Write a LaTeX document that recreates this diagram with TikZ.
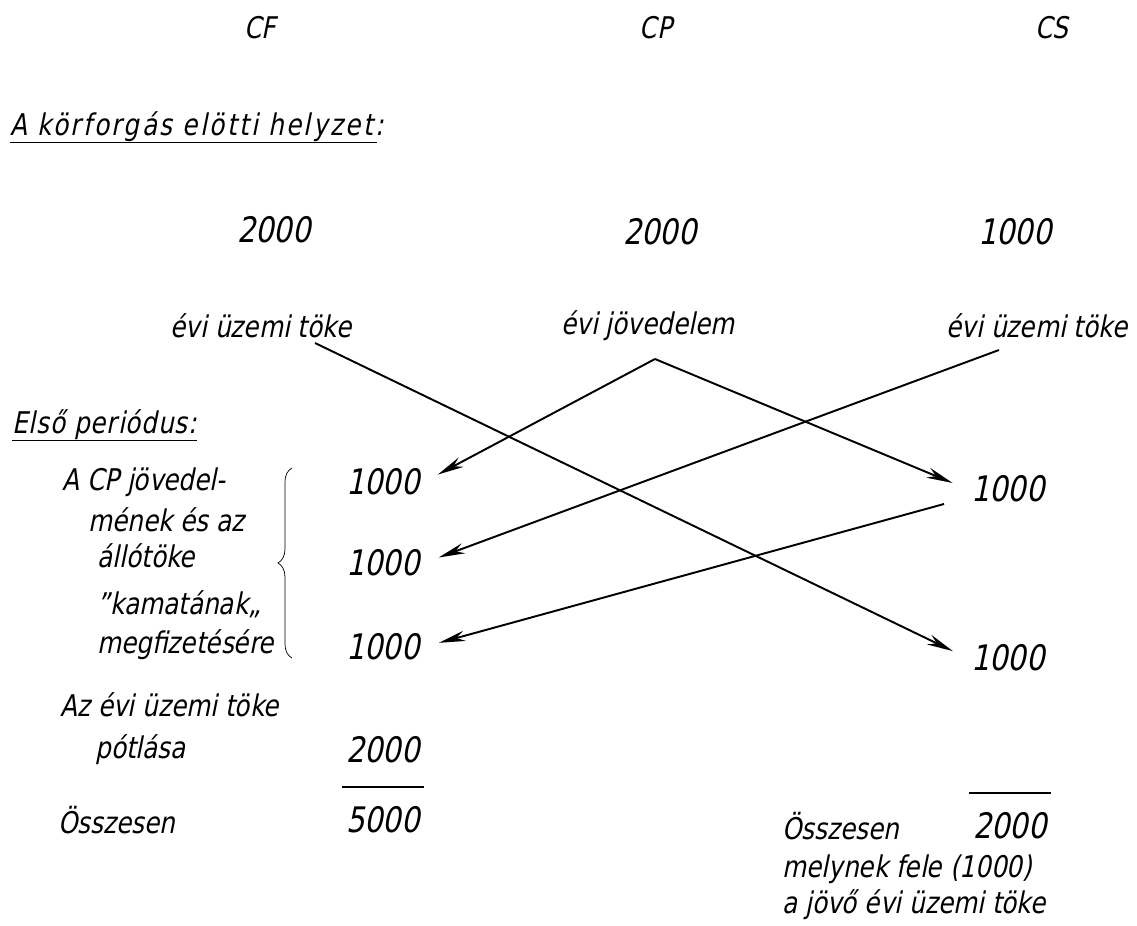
\documentclass[tikz,border=0pt]{standalone}
\usepackage{fontspec}
\setmainfont{DejaVu Sans Condensed}[FakeSlant=0.2, FakeStretch=0.92]
\usetikzlibrary{arrows.meta, decorations.pathreplacing}

\tikzstyle{label} = [font = \fontsize{17}{19}\selectfont, inner sep = 0pt]
\tikzstyle{line} = [label, anchor = west]
\tikzstyle{amount} = [font = \fontsize{20}{22}\selectfont, inner sep = 2pt]
\tikzstyle{flow} = [line width = 1.1pt, -{Stealth[length = 15pt, width = 6pt]}, shorten > = 9pt]

\begin{document}
\begin{tikzpicture}[x = 0.02cm, y = -0.02cm]
      \useasboundingbox (0, 0) rectangle (1137, 926);

      % Sectors
      \node[label] (cf) at ( 260, 28) {CF};
      \node[label] (cp) at ( 656, 28) {CP};
      \node[label] (cs) at (1052, 28) {CS};

      % Before the circulation
      \node[line] (before) at (10, 127) {\addfontfeature{LetterSpace = 8}A körforgás elötti helyzet:};
      \draw[line width = 1pt] (before.south west) -- ([xshift = -4pt]before.south east);
      \node[amount] (f0) at ( 274, 230) {2000};
      \node[amount] (p0) at ( 660, 232) {2000};
      \node[amount] (s0) at (1015, 232) {1000};
      \node[label] (fcap) at ( 261, 326) {évi üzemi töke};
      \node[label] (pinc) at ( 648, 326) {évi jövedelem};
      \node[label] (scap) at (1037, 326) {évi üzemi töke};

      % First period
      \node[line] (first) at (12, 425) {\addfontfeature{LetterSpace = 3}Első periódus:};
      \draw[line width = 1pt] (first.south west) -- (first.south east);
      \node[line] (t1) at (62, 482) {A CP jövedel-};
      \node[line] (t2) at (88, 520) {mének és az};
      \node[line] (t3) at (97, 556) {állótöke};
      \node[line] (t4) at (97, 604) {\char"0022kamatának„};
      \node[line] (t5) at (97, 645) {megfizetésére};
      \coordinate (bbot) at (292, 658);
      \coordinate (btop) at (292, 468);
      \draw[decorate, decoration = {brace, amplitude = 8pt}] (bbot) -- (btop);

      \node[amount] (l1) at ( 383, 482) {1000};
      \node[amount] (l2) at ( 383, 563) {1000};
      \node[amount] (l3) at ( 383, 647) {1000};
      \node[amount] (r1) at (1008, 489) {1000};
      \node[amount] (r2) at (1008, 658) {1000};

      \node[line] (t6) at (60, 705) {Az évi üzemi töke};
      \node[line] (t7) at (95, 750) {pótlása};
      \node[amount] (l4) at (383, 750) {2000};
      \node[line] (t8) at (58, 820) {Összesen};
      \node[amount] (l5) at (383, 820) {5000};
      \draw[line width = 1pt] ([yshift = 9pt]l5.north west) -- ([yshift = 9pt]l5.north east);

      \node[line] (t9) at (782, 826) {Összesen};
      \node[amount] (r3) at (1010, 826) {2000};
      \draw[line width = 1pt] ([yshift = 9pt]r3.north west) -- ([yshift = 9pt]r3.north east);
      \node[line] (t10) at (782, 869) {melynek fele (1000)};
      \node[line] (t11) at (782, 905) {a jövő évi üzemi töke};

      % Flows
      \coordinate (fout) at (315, 343);
      \coordinate (pout) at (655, 359);
      \coordinate (sout) at (999, 350);
      \coordinate (rout) at (944, 504);
      \draw[flow] (fout) -- (r2.west);
      \draw[flow] (pout) -- (l1.east);
      \draw[flow] (pout) -- (r1.west);
      \draw[flow] (sout) -- (l2.east);
      \draw[flow] (rout) -- (l3.east);
    \end{tikzpicture}
\end{document}
